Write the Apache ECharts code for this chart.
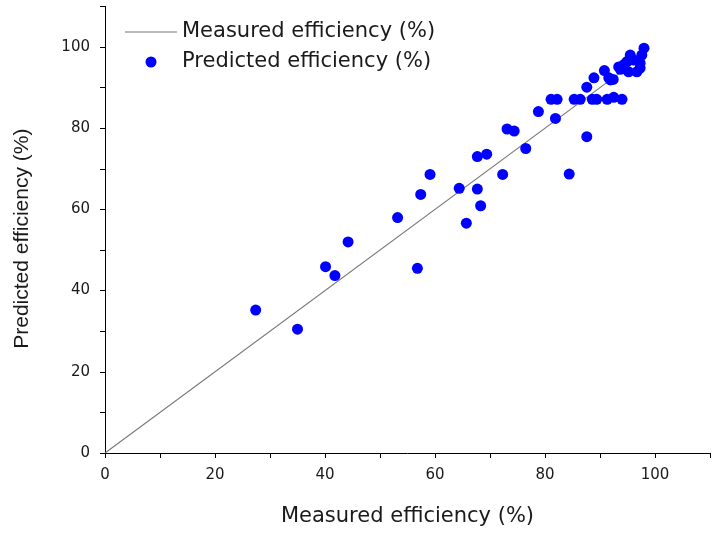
<!DOCTYPE html>
<html>
<head>
<meta charset="utf-8">
<script src="https://cdn.jsdelivr.net/npm/echarts@6/dist/echarts.min.js"></script>
<style>
html,body{margin:0;padding:0;background:#fff;}
#chart{width:713px;height:533px;}
</style>
</head>
<body>
<div id="chart"></div>
<script>
var measured = [27.4,35.0,40.1,41.8,44.2,53.2,56.8,57.4,59.1,64.4,65.7,67.7,67.7,68.3,69.4,72.3,73.1,74.4,76.5,78.8,
  81.1,82.2,81.9,84.4,85.3,86.4,87.6,87.6,88.9,88.6,89.4,91.3,92.5,94.0,90.8,91.6,92.4,93.4,94.3,94.9,
  95.5,96.1,97.3,97.6,98.0,95.2,96.7,97.3,93.7,91.9];
var predicted = [35.2,30.5,45.9,43.7,52.0,58.0,45.5,63.7,68.6,65.2,56.6,73.0,65.0,60.9,73.6,68.6,79.8,79.3,75.0,84.1,
  87.1,87.1,82.4,68.7,87.1,87.1,77.9,90.1,92.4,87.1,87.1,87.1,87.6,87.1,94.2,92.4,92.0,95.1,95.6,96.4,
  98.0,96.8,96.0,98.0,99.7,93.9,93.9,94.8,94.5,91.9];
var lineX = [0, 98];
var lineY = [0, 98];
var lineName = 'Measured efficiency (%)';
var scatterName = 'Predicted efficiency (%)';
var xTitle = 'Measured efficiency (%)';
var yTitle = 'Predicted efficiency (%)';

var scatterData = measured.map(function(v,i){return [v, predicted[i]];});
var lineData = lineX.map(function(v,i){return [v, lineY[i]];});

var tickFont = {fontFamily:'DejaVu Sans', fontSize:15, color:'#1a1a1a'};
function axisCommon(){
  return {
    type:'value', min:0, max:110, interval:10,
    axisLine:{show:true, onZero:false, lineStyle:{color:'#000', width:1}},
    axisTick:{show:true, inside:false, length:5, lineStyle:{color:'#000', width:1}},
    splitLine:{show:false},
    axisLabel:Object.assign({formatter:function(v){return (v%20===0 && v<=100)? String(v):'';}}, tickFont)
  };
}
var xa = axisCommon();
xa.name = xTitle; xa.nameLocation='middle'; xa.nameGap=53;
xa.nameTextStyle={fontFamily:'DejaVu Sans', fontSize:21, color:'#1a1a1a'};
xa.axisLabel.margin = 15;
var ya = axisCommon();
ya.name = yTitle; ya.nameLocation='middle'; ya.nameGap=72;
ya.nameTextStyle={fontFamily:'Liberation Sans', fontSize:21, color:'#1a1a1a', padding:[0,18,0,0]};
ya.axisLabel.margin = 15;

var chart = echarts.init(document.getElementById('chart'), null, {renderer:'canvas'});
chart.setOption({
  animation:false,
  backgroundColor:'#fff',
  grid:{left:105, right:2, top:6.4, bottom:80, containLabel:false},
  legend:{
    orient:'vertical', left:120, top:15, itemWidth:52, itemHeight:11, itemGap:6,
    textStyle:{fontFamily:'DejaVu Sans', fontSize:21, color:'#1a1a1a', lineHeight:24},
    data:[{name:lineName, icon:'path://M0,0L52,0L52,1.1L0,1.1Z', itemStyle:{color:'#777'}},
          {name:scatterName, icon:'circle'}]
  },
  xAxis:xa,
  yAxis:ya,
  series:[
    {name:lineName, type:'line', data:lineData, symbol:'none', showSymbol:false,
     lineStyle:{color:'#777', width:1.1}, itemStyle:{color:'#777'}, z:1},
    {name:scatterName, type:'scatter', data:scatterData, symbol:'circle', symbolSize:11,
     itemStyle:{color:'#0000ff', opacity:1}, z:2}
  ]
});
</script>
</body>
</html>
